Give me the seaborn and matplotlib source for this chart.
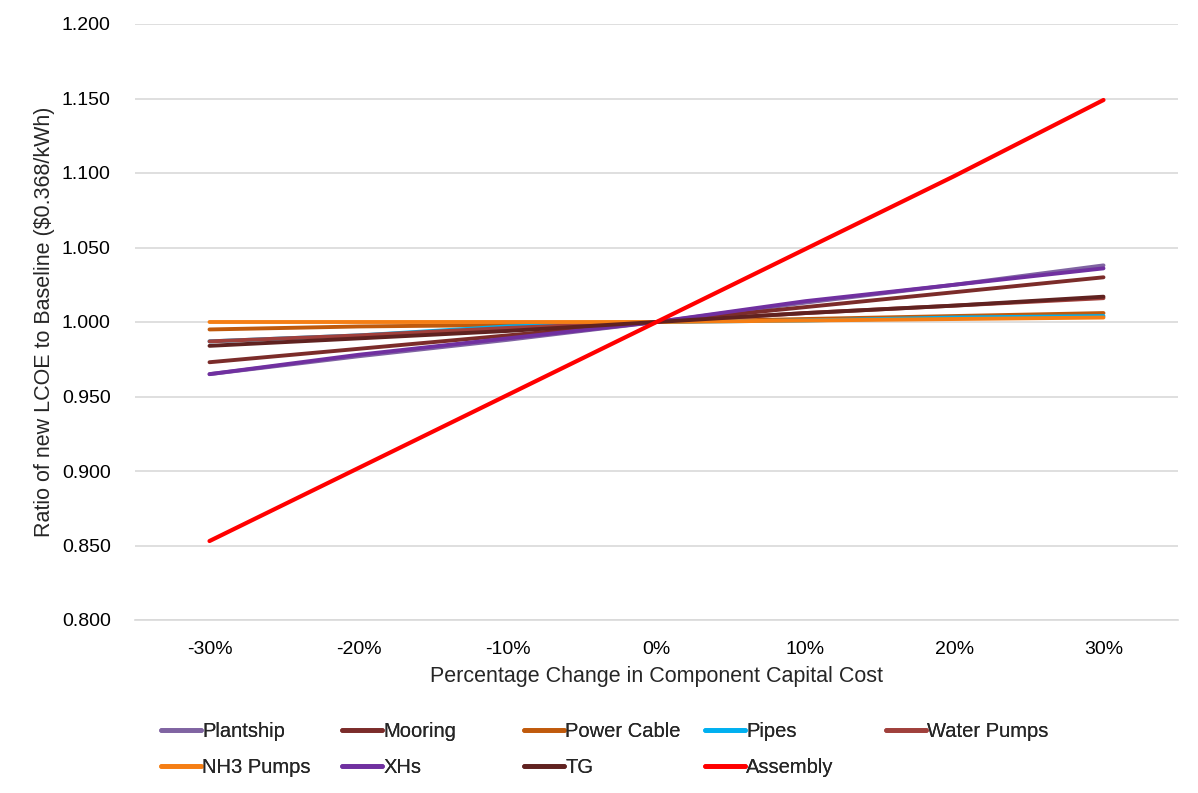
import matplotlib
matplotlib.use("Agg")
import matplotlib.pyplot as plt
from matplotlib.lines import Line2D
import seaborn as sns
import pandas as pd

# Sensitivity of LCOE ratio to component capital cost changes
changes = ["-30%", "-20%", "-10%", "0%", "10%", "20%", "30%"]

plantship   = [0.965, 0.977, 0.988, 1.000, 1.013, 1.025, 1.038]
mooring     = [0.973, 0.982, 0.991, 1.000, 1.010, 1.020, 1.030]
power_cable = [0.995, 0.997, 0.998, 1.000, 1.002, 1.004, 1.006]
pipes       = [0.987, 0.991, 0.997, 1.000, 1.001, 1.003, 1.004]
water_pumps = [0.987, 0.991, 0.996, 1.000, 1.006, 1.011, 1.016]
nh3_pumps   = [1.000, 1.000, 1.000, 1.000, 1.001, 1.002, 1.003]
xhs         = [0.965, 0.978, 0.989, 1.000, 1.014, 1.025, 1.036]
tg          = [0.984, 0.989, 0.994, 1.000, 1.006, 1.011, 1.017]
assembly    = [0.853, 0.902, 0.951, 1.000, 1.049, 1.098, 1.149]

series_names = ["Plantship", "Mooring", "Power Cable", "Pipes", "Water Pumps",
                "NH3 Pumps", "XHs", "TG", "Assembly"]
series_values = [plantship, mooring, power_cable, pipes, water_pumps,
                 nh3_pumps, xhs, tg, assembly]
colors = ["#8064A2", "#7B2C2A", "#C05A0C", "#00B0F0", "#A0403C",
          "#F57E14", "#7030A0", "#602220", "#FF0000"]

yticks = [0.800, 0.850, 0.900, 0.950, 1.000, 1.050, 1.100, 1.150, 1.200]

rows = []
for name, vals in zip(series_names, series_values):
    for i, v in enumerate(vals):
        rows.append({"pos": i, "change": changes[i], "series": name, "ratio": v})
df = pd.DataFrame(rows)

sns.set_theme(style="white")
plt.rcParams["font.family"] = ["Liberation Sans", "DejaVu Sans"]

fig = plt.figure(figsize=(11.98, 7.93), dpi=100)
ax = fig.add_axes([135 / 1198, 1 - 620 / 793, (1178 - 135) / 1198, (620 - 24) / 793])

palette = dict(zip(series_names, colors))
sns.lineplot(data=df, x="pos", y="ratio", hue="series", hue_order=series_names,
             palette=palette, linewidth=2.8, legend=False, ax=ax,
             solid_capstyle="round", sort=False)
# Assembly a touch heavier
for line, name in zip(ax.get_lines(), series_names):
    if name == "Assembly":
        line.set_linewidth(3.0)

ax.set_xlim(-0.5, len(changes) - 0.5)
ax.set_xticks(range(len(changes)))
ax.set_xticklabels(changes)
ax.set_ylim(0.8, 1.2)
ax.set_yticks(yticks)
ax.set_yticklabels([f"{t:.3f}" for t in yticks])
ax.yaxis.grid(True, color="#D9D9D9", linewidth=1.2)
ax.set_axisbelow(True)
for s in ["top", "right", "left"]:
    ax.spines[s].set_visible(False)
ax.spines["bottom"].set_color("#D9D9D9")
ax.spines["bottom"].set_linewidth(1.2)
ax.tick_params(axis="both", length=0, labelsize=14, colors="#000000")
ax.tick_params(axis="x", pad=15)
ax.tick_params(axis="y", pad=17.5)

ax.set_xlabel("Percentage Change in Component Capital Cost", fontsize=15.5, labelpad=6)
ax.set_ylabel("Ratio of new LCOE to Baseline ($0.368/kWh)", fontsize=15.5, labelpad=5)

# Legend laid out as fixed-width columns, two rows
legend_cols = [
    ["Plantship", "NH3 Pumps"],
    ["Mooring", "XHs"],
    ["Power Cable", "TG"],
    ["Pipes", "Assembly"],
    ["Water Pumps"],
]
col_x = [153, 334, 516, 697, 878]
for names, x in zip(legend_cols, col_x):
    handles = [Line2D([0], [0], color=palette[n], linewidth=3.4, solid_capstyle="round")
               for n in names]
    leg = fig.legend(handles, names, loc="upper left",
                     bbox_to_anchor=(x / 1198, 1 - 714 / 793),
                     frameon=False, fontsize=14.5, handlelength=2.0,
                     handletextpad=0.05, labelspacing=0.82, borderaxespad=0)
    fig.add_artist(leg)

fig.savefig("out.png", dpi=100, facecolor="white")
